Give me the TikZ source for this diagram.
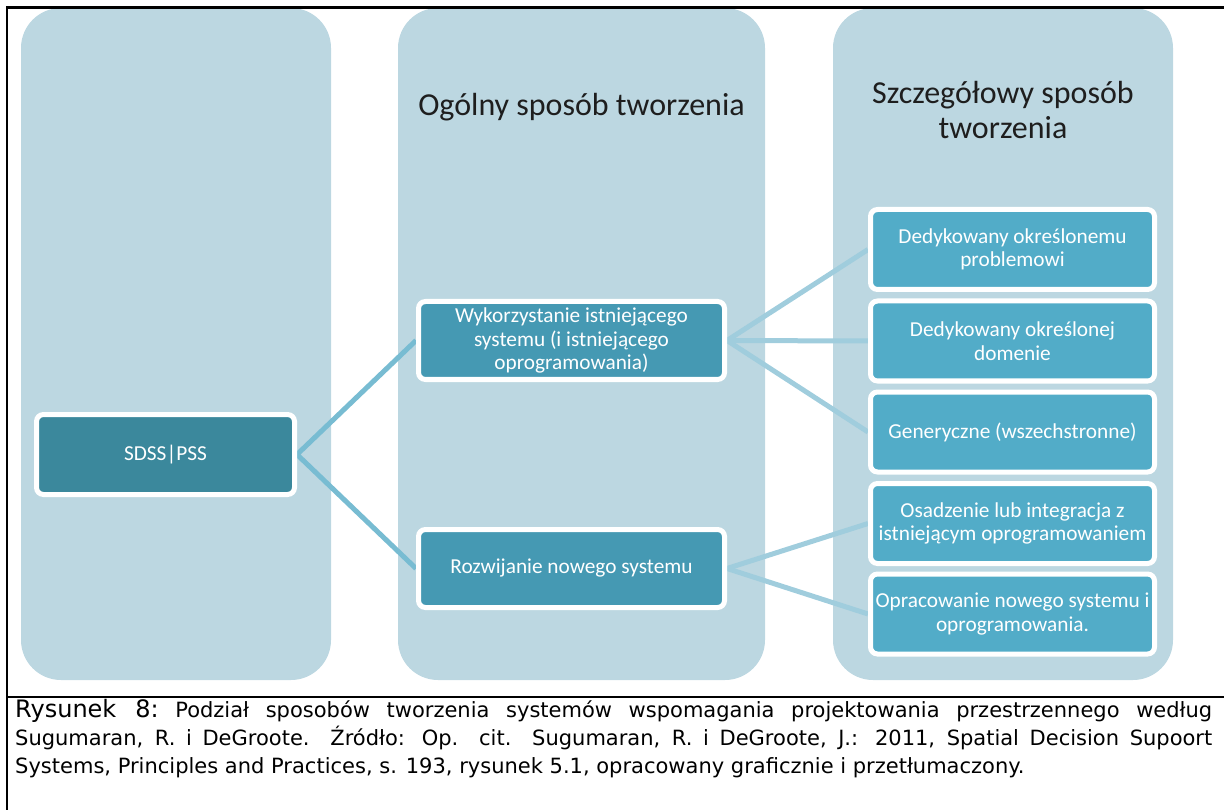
\documentclass[tikz,border=0pt]{standalone}
\usepackage{fontspec}
\setmainfont{Carlito}
\newfontfamily\capfont{DejaVu Sans}
\definecolor{colbg}{HTML}{BCD7E1}
\definecolor{rootc}{HTML}{3B889C}
\definecolor{midc}{HTML}{4599B3}
\definecolor{leafc}{HTML}{52ACC8}
\definecolor{linkA}{HTML}{78BCD2}
\definecolor{linkB}{HTML}{A0CDDD}
\definecolor{headc}{HTML}{1E1E1E}
\pgfdeclarelayer{cols}
\pgfdeclarelayer{links}
\pgfsetlayers{cols,links,main}
\tikzset{
  colbox/.style={fill=colbg, rounded corners=40pt},
  nbox/.style={draw=white, line width=5pt, rounded corners=7pt, text=white,
    align=center, inner sep=1pt, font=\fontsize{21.3}{23.5}\selectfont},
  rootbox/.style={nbox, fill=rootc, minimum width=258pt, minimum height=80pt},
  midbox/.style={nbox, fill=midc, minimum width=306pt, minimum height=78pt},
  leafbox/.style={nbox, fill=leafc, minimum width=284pt, minimum height=80pt},
  head/.style={text=headc, align=center, font=\fontsize{32}{35}\selectfont},
  linkl/.style={draw=linkA, line width=5pt},
  linkr/.style={draw=linkB, line width=5pt},
  frame/.style={draw=black, line width=2.5pt}
}
\begin{document}
\begin{tikzpicture}[x=1pt,y=-1pt]
\useasboundingbox (0,0) rectangle (1224,810);
\begin{pgfonlayer}{cols}
  \fill[colbox] (21,8) rectangle (331,680);
  \fill[colbox] (398,8) rectangle (765,680);
  \fill[colbox] (833,8) rectangle (1173,680);
\end{pgfonlayer}
% frame
\draw[frame] (7,810) -- (7,7.5) -- (1224,7.5);
\draw[frame] (7,697) -- (1224,697);
% headers
\node[head] (h2) at (581.5,107) {Ogólny sposób tworzenia};
\node[head] (h3) at (1003,110) {Szczegółowy sposób\\tworzenia};
% nodes
\node[rootbox] (root) at (165.5,454.5) {SDSS|PSS};
\node[midbox] (use) at (571.5,340.5) {Wykorzystanie istniejącego\\systemu (i istniejącego\\oprogramowania)};
\node[midbox] (dev) at (571.5,568.5) {Rozwijanie nowego systemu};
\node[leafbox] (l1) at (1012.5,249.5) {Dedykowany określonemu\\problemowi};
\node[leafbox] (l2) at (1012.5,341) {Dedykowany określonej\\domenie};
\node[leafbox] (l3) at (1012.5,432) {Generyczne (wszechstronne)};
\node[leafbox] (l4) at (1012.5,523.5) {Osadzenie lub integracja z\\istniejącym oprogramowaniem};
\node[leafbox] (l5) at (1012.5,614) {Opracowanie nowego systemu i\\oprogramowania.};
\begin{pgfonlayer}{links}
  \draw[linkl] (root.east) -- (use.west);
  \draw[linkl] (root.east) -- (dev.west);
  \draw[linkr] (use.east) -- (l1.west);
  \draw[linkr] (use.east) -- (l2.west);
  \draw[linkr] (use.east) -- (l3.west);
  \draw[linkr] (dev.east) -- (l4.west);
  \draw[linkr] (dev.east) -- (l5.west);
\end{pgfonlayer}
% caption
\node[anchor=north west, inner sep=0pt, text width=1197pt, align=justify,
  font=\capfont\fontsize{21}{28}\selectfont] (cap) at (15,699)
  {{\fontsize{24}{28}\selectfont Rysunek 8:}\ Podział sposobów tworzenia systemów wspomagania projektowania przestrzennego według\linebreak
  Sugumaran, R. i DeGroote. Źródło: Op. cit. Sugumaran, R. i DeGroote, J.: 2011, Spatial Decision Supoort\linebreak
  Systems, Principles and Practices, s. 193, rysunek 5.1, opracowany graficznie i przetłumaczony.};
\end{tikzpicture}
\end{document}
